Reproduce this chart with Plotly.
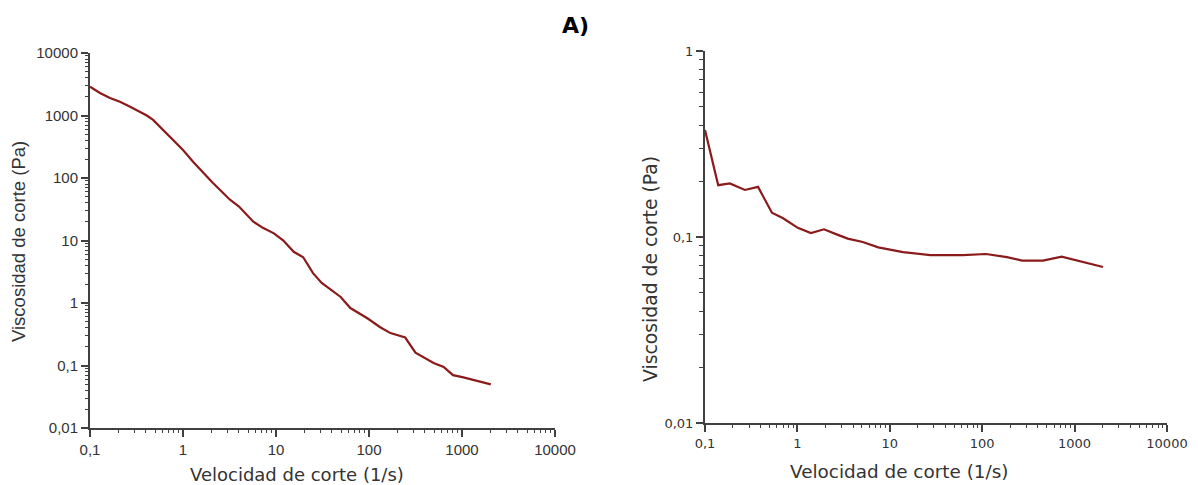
import plotly.graph_objects as go

# Left panel data (shear rate 1/s, viscosity Pa)
left_rate = [0.1, 0.128, 0.164, 0.21, 0.27, 0.345, 0.408, 0.477, 0.61, 0.79, 1.0, 1.29, 1.66, 2.1,
             3.2, 4.0, 5.7, 7.3, 9.5, 12.0, 15.5, 19.6, 25, 31, 49.6, 63, 96, 132, 170, 245,
             316, 495, 635, 800, 1010, 2040]
left_visc = [2900, 2290, 1905, 1660, 1380, 1150, 1000, 850, 590, 410, 280, 180, 120, 83,
             45, 35, 20, 15.8, 13, 10, 6.6, 5.4, 3.0, 2.1, 1.25, 0.83, 0.57, 0.41, 0.33, 0.28,
             0.16, 0.11, 0.095, 0.07, 0.065, 0.05]

# Right panel data
right_rate = [0.1, 0.139, 0.186, 0.27, 0.375, 0.53, 0.7, 1.01, 1.4, 1.94, 2.7, 3.5, 5.1, 7.5,
              13.9, 27.4, 62, 110, 185, 270, 455, 725, 2030]
right_visc = [0.376, 0.19, 0.194, 0.179, 0.186, 0.135, 0.126, 0.112, 0.105, 0.110, 0.103, 0.098,
              0.094, 0.088, 0.083, 0.080, 0.080, 0.081, 0.078, 0.0746, 0.0746, 0.0784, 0.069]

x_ticks = [0.1, 1, 10, 100, 1000, 10000]
x_ticktext = ["0,1", "1", "10", "100", "1000", "10000"]
left_y_ticks = [0.01, 0.1, 1, 10, 100, 1000, 10000]
left_y_ticktext = ["0,01", "0,1", "1", "10", "100", "1000", "10000"]
right_y_ticks = [0.01, 0.1, 1]
right_y_ticktext = ["0,01", "0,1", "1"]

title_text = "A)"
x_title = "Velocidad de corte (1/s)"
y_title = "Viscosidad de corte (Pa)"

LINE = "#8B1A1A"
AX = "#404040"
TXT = "#333333"
W, H = 1198, 485


def minor_vals(lo_exp, hi_exp):
    return [m * 10 ** e for e in range(lo_exp, hi_exp) for m in range(2, 10)]


fig = go.Figure()
fig.add_trace(go.Scatter(x=left_rate, y=left_visc, mode="lines",
                         line=dict(color=LINE, width=2.2), xaxis="x", yaxis="y",
                         showlegend=False))
fig.add_trace(go.Scatter(x=right_rate, y=right_visc, mode="lines",
                         line=dict(color=LINE, width=2.2), xaxis="x2", yaxis="y2",
                         showlegend=False))
# empty traces that register the minor-tick overlay axes
fig.add_trace(go.Scatter(x=[], y=[], xaxis="x3", yaxis="y3", showlegend=False, hoverinfo="skip"))
fig.add_trace(go.Scatter(x=[], y=[], xaxis="x4", yaxis="y4", showlegend=False, hoverinfo="skip"))

common = dict(type="log", showline=True, linecolor=AX, linewidth=2, showgrid=False,
              zeroline=False, ticks="outside", ticklen=7, tickwidth=1.6, tickcolor=AX,
              tickmode="array", automargin=False, fixedrange=True)


def minor_axis(rng, dom, anchor, over, vals, ln):
    return dict(type="log", range=rng, domain=dom, anchor=anchor, overlaying=over,
                tickmode="array", tickvals=vals, ticktext=[""] * len(vals),
                ticks="outside", ticklen=ln, tickwidth=1.3, tickcolor=AX,
                showticklabels=True, showline=False, showgrid=False, zeroline=False,
                automargin=False, fixedrange=True)


LX = [90 / W, 555 / W]
LY = [1 - 428 / H, 1 - 53 / H]
RX = [705 / W, 1167 / W]
RY = [1 - 423 / H, 1 - 51 / H]

fig.update_layout(
    width=W, height=H,
    margin=dict(l=0, r=0, t=0, b=0),
    plot_bgcolor="rgba(0,0,0,0)", paper_bgcolor="white",
    xaxis=dict(**common, domain=LX, range=[-1, 4],
               tickvals=x_ticks, ticktext=x_ticktext, anchor="y",
               tickfont=dict(family="Liberation Sans", size=15, color=TXT)),
    yaxis=dict(**common, domain=LY, range=[-2, 4],
               tickvals=left_y_ticks, ticktext=left_y_ticktext, anchor="x",
               tickfont=dict(family="Liberation Sans", size=15, color=TXT)),
    xaxis2=dict(**common, domain=RX, range=[-1, 4],
                tickvals=x_ticks, ticktext=x_ticktext, anchor="y2",
                tickfont=dict(family="DejaVu Sans", size=13, color=TXT)),
    yaxis2=dict(**common, domain=RY, range=[-2, 0],
                tickvals=right_y_ticks, ticktext=right_y_ticktext, anchor="x2",
                tickfont=dict(family="DejaVu Sans", size=13, color=TXT)),
    xaxis3=minor_axis([-1, 4], LX, "y", "x", minor_vals(-1, 4), 4),
    yaxis3=minor_axis([-2, 4], LY, "x", "y", minor_vals(-2, 4), 4),
    xaxis4=minor_axis([-1, 4], RX, "y2", "x2", minor_vals(-1, 4), 4),
    yaxis4=minor_axis([-2, 0], RY, "x2", "y2", minor_vals(-2, 0), 5),
    annotations=[
        dict(text="<b>" + title_text + "</b>", x=575 / W, y=1 - 25 / H,
             xref="paper", yref="paper", showarrow=False, xanchor="center", yanchor="middle",
             font=dict(family="DejaVu Sans", size=22, color="black")),
        dict(text=x_title, x=297 / W, y=1 - 474 / H, xref="paper", yref="paper",
             showarrow=False, xanchor="center", yanchor="middle",
             font=dict(family="DejaVu Sans", size=18, color=TXT)),
        dict(text=x_title, x=899 / W, y=1 - 471 / H, xref="paper", yref="paper",
             showarrow=False, xanchor="center", yanchor="middle",
             font=dict(family="DejaVu Sans", size=18.4, color=TXT)),
        dict(text=y_title, x=18 / W, y=1 - 242 / H, xref="paper", yref="paper",
             textangle=-90, showarrow=False, xanchor="center", yanchor="middle",
             font=dict(family="Liberation Sans", size=18.5, color=TXT)),
        dict(text=y_title, x=650 / W, y=1 - 269 / H, xref="paper", yref="paper",
             textangle=-90, showarrow=False, xanchor="center", yanchor="middle",
             font=dict(family="DejaVu Sans", size=18.8, color=TXT)),
    ],
)

fig.write_html("out.html", config={"displayModeBar": False},
               post_script="document.body.style.margin='0';")
